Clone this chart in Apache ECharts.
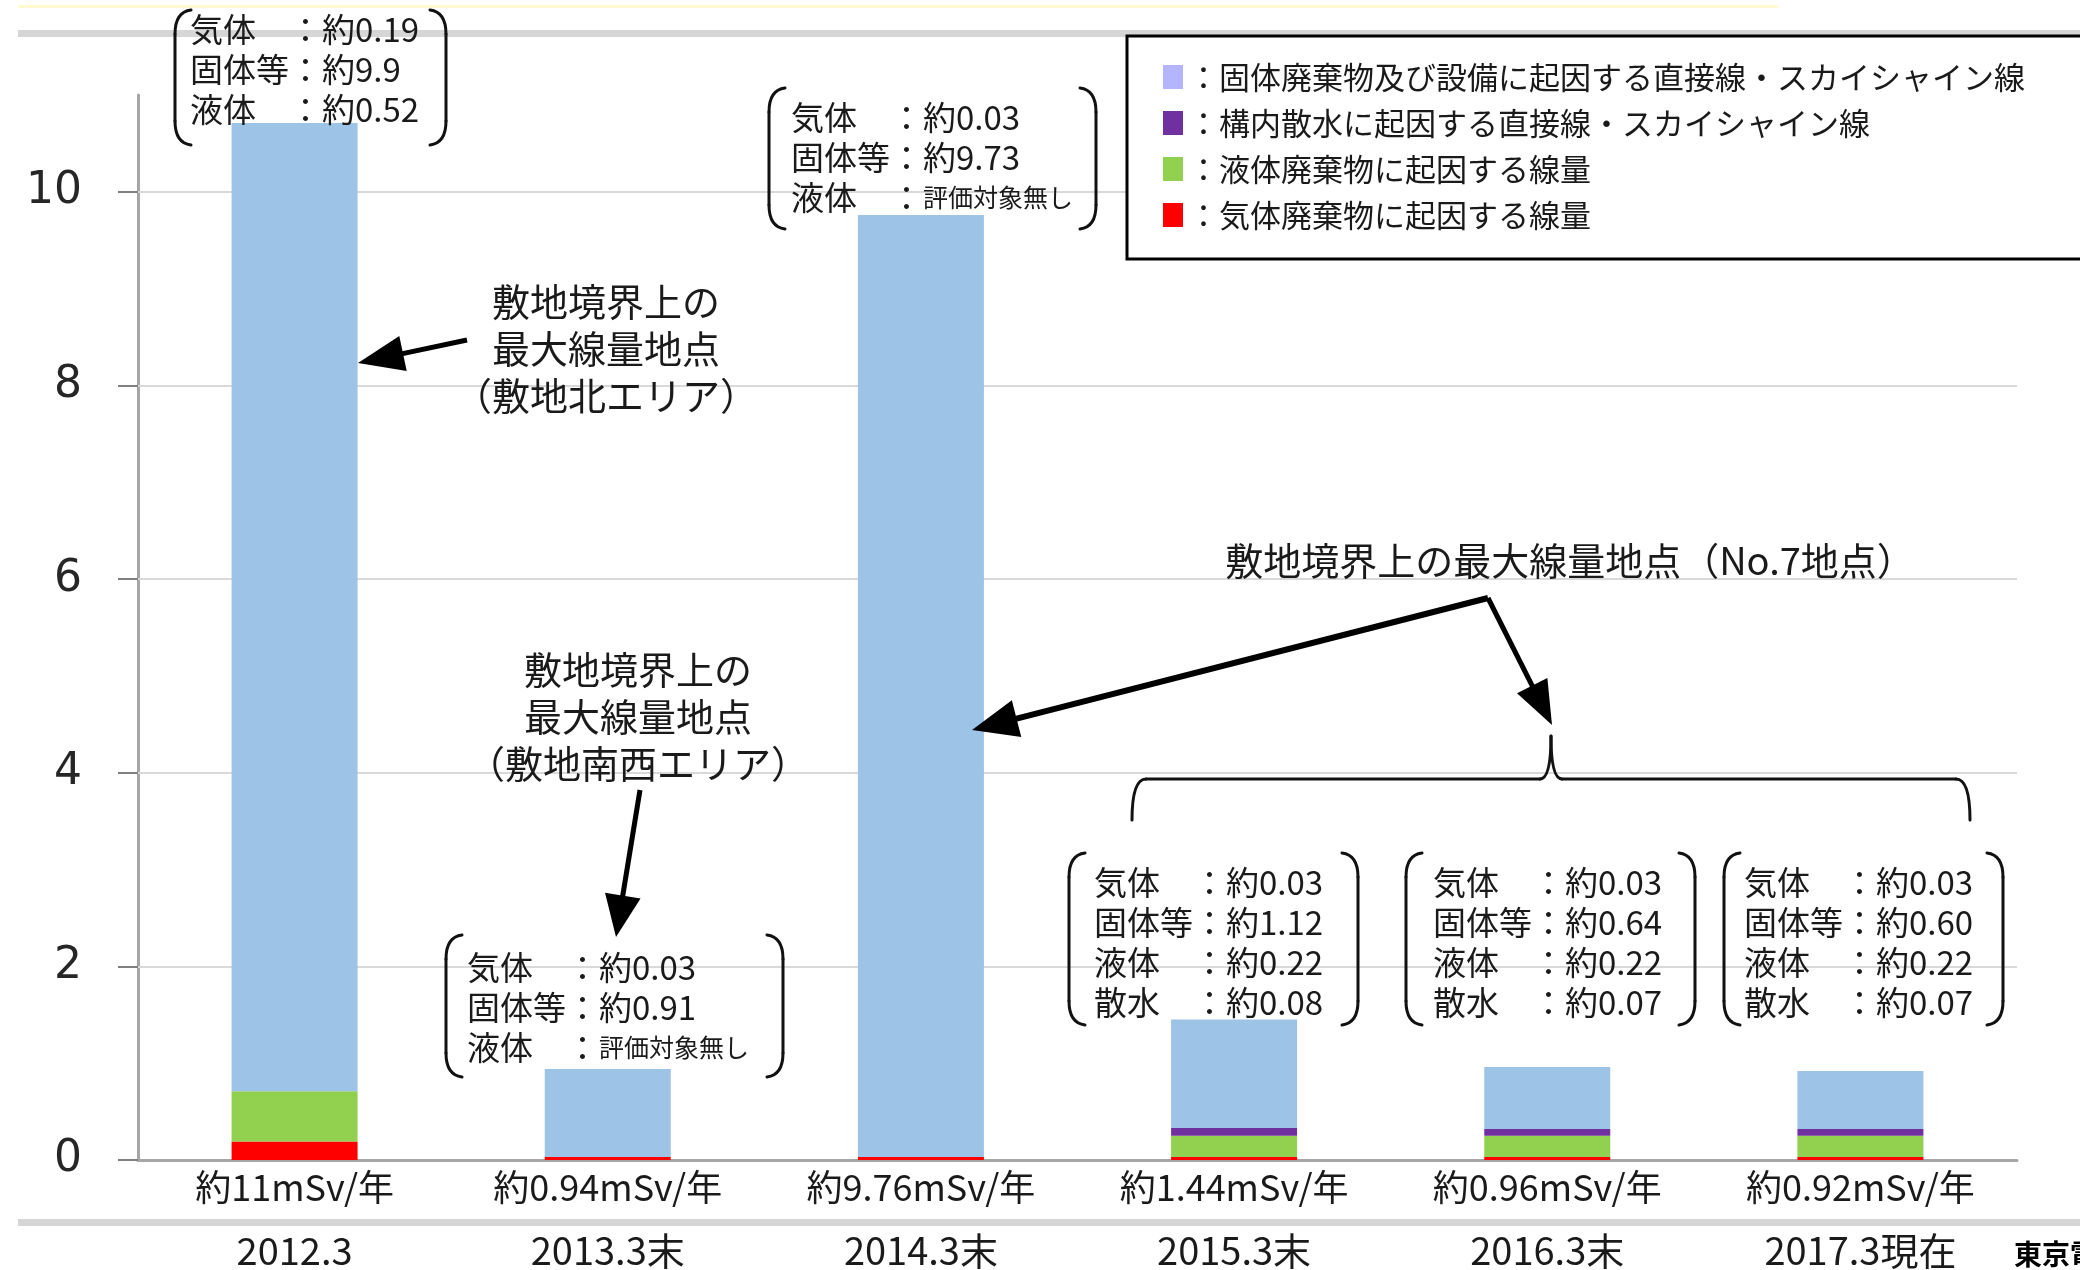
<!DOCTYPE html>
<html>
<head>
<meta charset="utf-8">
<script src="https://cdn.jsdelivr.net/npm/echarts@6/dist/echarts.min.js"></script>
<style>
html,body{margin:0;padding:0;background:#fff;}
#chart{width:2080px;height:1270px;}
</style>
</head>
<body>
<div id="chart"></div>
<script>
// ---- data ----
const categories = ['2012.3', '2013.3末', '2014.3末', '2015.3末', '2016.3末', '2017.3現在'];
const totalLabels = ['約11mSv/年', '約0.94mSv/年', '約9.76mSv/年', '約1.44mSv/年', '約0.96mSv/年', '約0.92mSv/年'];
const gasValues = [0.19, 0.03, 0.03, 0.03, 0.03, 0.03];
const liquidValues = [0.52, null, null, 0.22, 0.22, 0.22];
const waterValues = [null, null, null, 0.08, 0.07, 0.07];
const solidValues = [10.0, 0.91, 9.73, 1.12, 0.64, 0.60];
const yTicks = [0, 2, 4, 6, 8, 10];

const seriesNames = {
  solid: '固体廃棄物及び設備に起因する直接線・スカイシャイン線',
  water: '構内散水に起因する直接線・スカイシャイン線',
  liquid: '液体廃棄物に起因する線量',
  gas: '気体廃棄物に起因する線量'
};

const boxTexts = [
  ['気体　：約0.19', '固体等：約9.9', '液体　：約0.52'],
  ['気体　：約0.03', '固体等：約9.73', '液体　：{s|評価対象無し}'],
  ['気体　：約0.03', '固体等：約0.91', '液体　：{s|評価対象無し}'],
  ['気体　：約0.03', '固体等：約1.12', '液体　：約0.22', '散水　：約0.08'],
  ['気体　：約0.03', '固体等：約0.64', '液体　：約0.22', '散水　：約0.07'],
  ['気体　：約0.03', '固体等：約0.60', '液体　：約0.22', '散水　：約0.07']
];
const noteA = ['敷地境界上の', '最大線量地点', '（敷地北エリア）'];
const noteB = ['敷地境界上の', '最大線量地点', '（敷地南西エリア）'];
const noteC = '敷地境界上の最大線量地点（No.7地点）';
const sourceText = '東京電力ホールディングス';

// ---- layout helpers ----
const FONT = '"Noto Sans CJK JP", "Noto Sans", sans-serif';
const TXT = '#1a1a1a';
const g = [];

// decorations
g.push({type:'rect', shape:{x:18, y:5, width:1760, height:3}, style:{fill:'#fffad0'}, z:0});
g.push({type:'rect', shape:{x:18, y:30, width:2062, height:7}, style:{fill:'#d6d6d6'}, z:0});
g.push({type:'rect', shape:{x:18, y:1219, width:2062, height:7}, style:{fill:'#d6d6d6'}, z:0});

function seg(x1, y1, x2, y2, lw) {
  g.push({type:'line', z:10, shape:{x1, y1, x2, y2}, style:{stroke:'#111', lineWidth:lw || 3, lineCap:'round'}});
}
function qcurve(x1, y1, cx, cy, x2, y2, lw) {
  g.push({type:'bezierCurve', z:10, shape:{x1, y1, cpx1:cx, cpy1:cy, x2, y2},
    style:{stroke:'#111', fill:null, lineWidth:lw || 3, lineCap:'round'}});
}

function bracketBox(L, R, top, bot, tx, firstY, lines) {
  const c = 16, r = 24;
  qcurve(L + c, top, L, top + 2, L, top + r);
  seg(L, top + r, L, bot - r);
  qcurve(L, bot - r, L, bot - 2, L + c, bot);
  qcurve(R - c, top, R, top + 2, R, top + r);
  seg(R, top + r, R, bot - r);
  qcurve(R, bot - r, R, bot - 2, R - c, bot);
  lines.forEach((t, i) => {
    g.push({type:'text', x:tx, y:firstY + i*40, z:10,
      style:{text:t, fontSize:33, fontFamily:FONT, fill:TXT, verticalAlign:'middle', align:'left',
        rich:{s:{fontSize:25, fontFamily:FONT, fill:TXT, verticalAlign:'middle'}}}});
  });
}
bracketBox(175, 446, 10, 145, 190, 29, boxTexts[0]);
bracketBox(769, 1096, 88, 229, 791, 117, boxTexts[1]);
bracketBox(446, 783, 935, 1077, 467, 967, boxTexts[2]);
bracketBox(1069, 1358, 853, 1025, 1094, 882, boxTexts[3]);
bracketBox(1406, 1695, 853, 1025, 1433, 882, boxTexts[4]);
bracketBox(1724, 2003, 853, 1025, 1744, 882, boxTexts[5]);

function arrow(x1, y1, x2, y2, lw, hl, hw) {
  const dx = x2 - x1, dy = y2 - y1, len = Math.hypot(dx, dy);
  const ux = dx/len, uy = dy/len, px = -uy, py = ux;
  const bx = x2 - ux*hl, by = y2 - uy*hl;
  g.push({type:'line', shape:{x1:x1, y1:y1, x2:bx + ux*4, y2:by + uy*4}, style:{stroke:'#000', lineWidth:lw}, z:10});
  g.push({type:'polygon', shape:{points:[[x2, y2], [bx + px*hw/2, by + py*hw/2], [bx - px*hw/2, by - py*hw/2]]},
    style:{fill:'#000'}, z:10});
}
arrow(467, 340, 358, 363, 5, 46, 36);
arrow(640, 790, 616, 937, 5, 42, 36);
arrow(1488, 598, 972, 730, 6, 46, 38);
arrow(1488, 598, 1552, 725, 5, 44, 34);

// brace
qcurve(1132, 820, 1132, 779, 1146, 779);
seg(1146, 779, 1540, 779);
qcurve(1540, 779, 1551, 779, 1551, 736);
qcurve(1551, 736, 1551, 779, 1562, 779);
seg(1562, 779, 1956, 779);
qcurve(1956, 779, 1970, 779, 1970, 820);

function note(lines, cx, firstY) {
  lines.forEach((t, i) => {
    g.push({type:'text', x:cx, y:firstY + i*47, z:10,
      style:{text:t, fontSize:38, fontFamily:FONT, fill:TXT, align:'center', verticalAlign:'middle'}});
  });
}
note(noteA, 606, 302);
note(noteB, 638, 670);
g.push({type:'text', x:1570, y:561, z:10,
  style:{text:noteC, fontSize:38, fontFamily:FONT, fill:TXT, align:'center', verticalAlign:'middle'}});
g.push({type:'text', x:2014, y:1254, z:10,
  style:{text:sourceText, fontSize:28, fontWeight:'bold', fontFamily:FONT, fill:'#000', align:'left', verticalAlign:'middle'}});

const chart = echarts.init(document.getElementById('chart'));
chart.setOption({
  animation: false,
  backgroundColor: '#fff',
  grid: {left:138, right:63, top:95, bottom:108},
  legend: {
    orient: 'vertical', left: 1127, top: 36,
    backgroundColor: '#fff', borderColor: '#000', borderWidth: 3,
    padding: [25, 60, 28, 36], itemGap: 14, itemWidth: 20, itemHeight: 24, icon: 'rect',
    formatter: '：{name}',
    textStyle: {fontSize: 31, lineHeight: 32, fontFamily: FONT, color: TXT},
    data: [
      {name: seriesNames.solid, itemStyle: {color: '#b4b4ff'}},
      {name: seriesNames.water, itemStyle: {color: '#7030a0'}},
      {name: seriesNames.liquid, itemStyle: {color: '#92d050'}},
      {name: seriesNames.gas, itemStyle: {color: '#ff0000'}}
    ],
    z: 5
  },
  xAxis: {
    type: 'category', data: categories,
    axisLine: {lineStyle: {color: '#a6a6a6', width: 3}},
    axisTick: {show: false},
    axisLabel: {
      interval: 0, margin: 6,
      formatter: (v, i) => `{a|${totalLabels[i]}}\n{b|${v}}`,
      rich: {
        a: {fontSize: 36, lineHeight: 42, fontFamily: FONT, color: TXT},
        b: {fontSize: 38, lineHeight: 86, fontFamily: FONT, color: TXT}
      }
    }
  },
  yAxis: {
    type: 'value', min: 0, max: 11, interval: 2,
    axisLine: {show: true, lineStyle: {color: '#a6a6a6', width: 3}},
    axisTick: {show: true, length: 20, customValues: yTicks, lineStyle: {color: '#808080', width: 2}},
    axisLabel: {margin: 56, fontSize: 44, fontFamily: '"DejaVu Sans", sans-serif', color: '#262626',
      customValues: yTicks},
    splitLine: {show: false}
  },
  graphic: g,
  series: [
    {name: seriesNames.gas, type: 'bar', stack: 'all', barWidth: 126, data: gasValues,
      itemStyle: {color: '#ff0000'},
      markLine: {silent: true, z: 1, symbol: ['none', 'none'], label: {show: false},
        lineStyle: {color: '#d9d9d9', width: 2, type: 'solid'},
        data: yTicks.filter(v => v > 0).map(v => ({yAxis: v}))}},
    {name: seriesNames.liquid, type: 'bar', stack: 'all', data: liquidValues, itemStyle: {color: '#92d050'}},
    {name: seriesNames.water, type: 'bar', stack: 'all', data: waterValues, itemStyle: {color: '#7030a0'}},
    {name: seriesNames.solid, type: 'bar', stack: 'all', data: solidValues, itemStyle: {color: '#9dc3e6'}}
  ]
});
</script>
</body>
</html>
